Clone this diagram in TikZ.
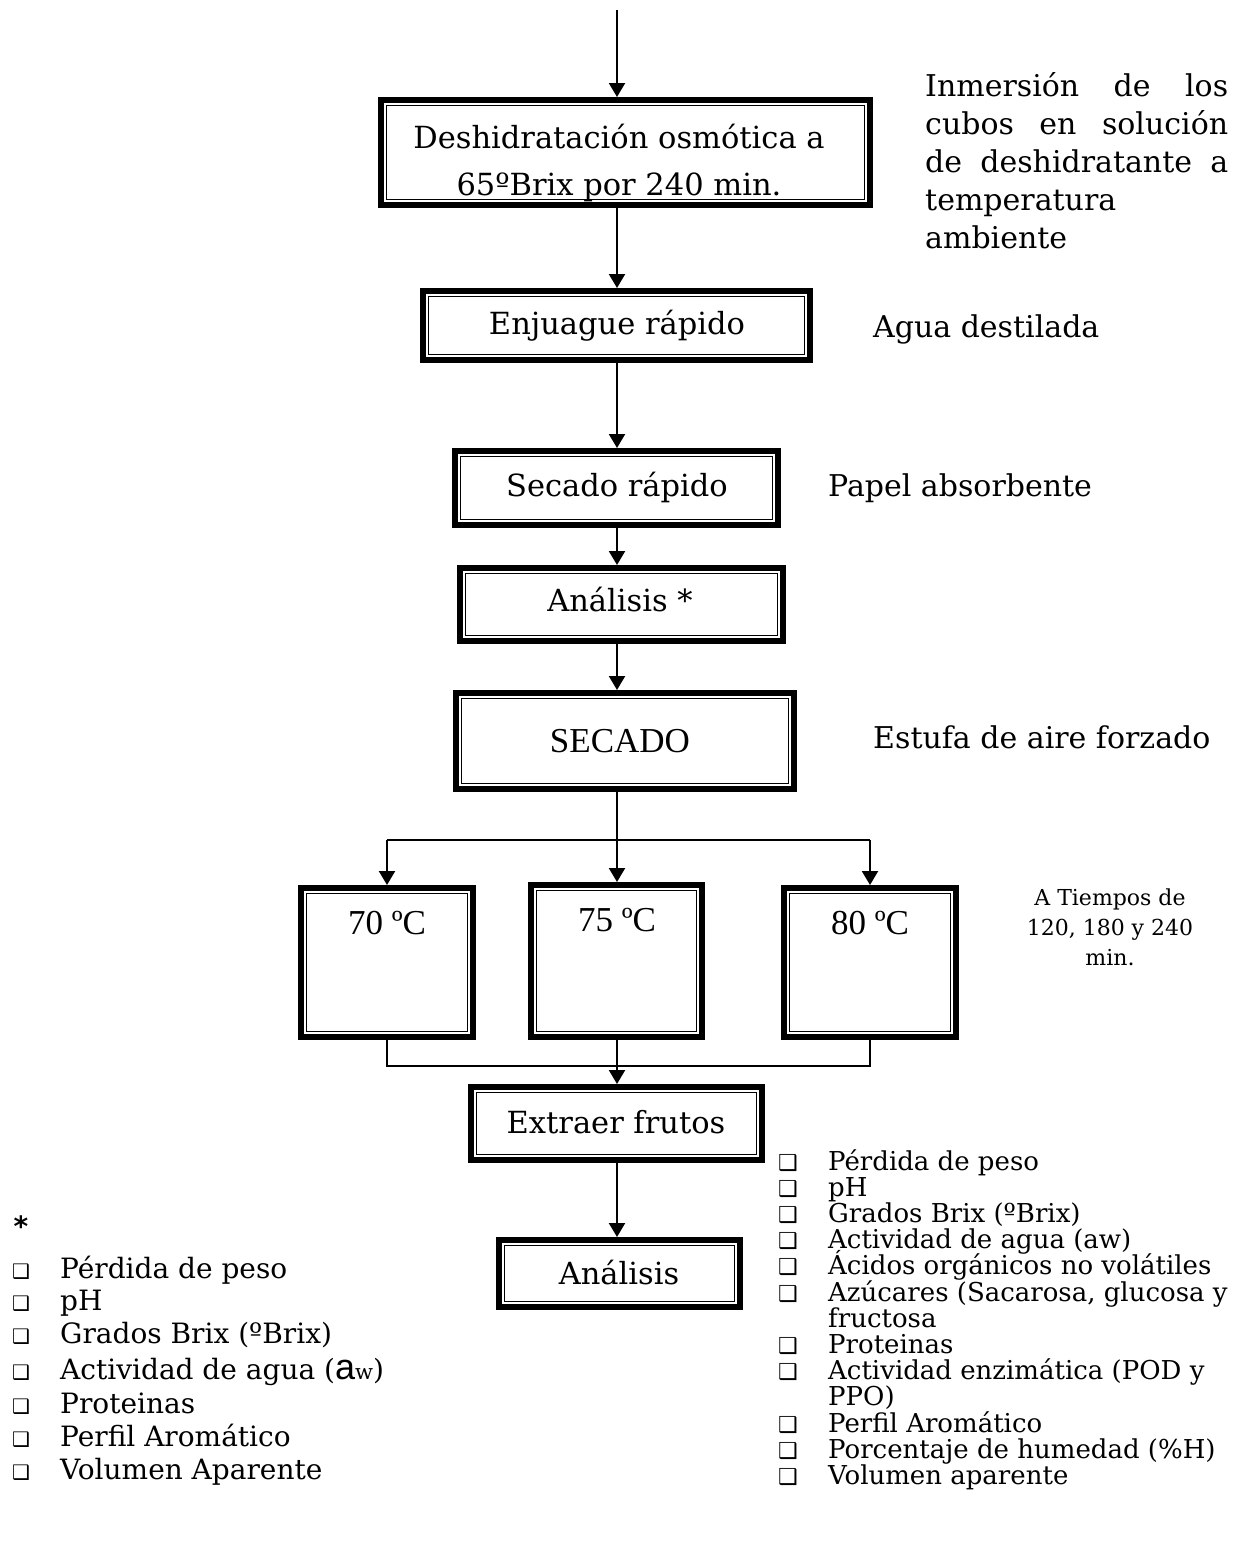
\documentclass[tikz,border=0pt]{standalone}
\usepackage{fontspec}
\setmainfont{DejaVu Serif}
\newfontfamily\timesf{Liberation Serif}
\newfontfamily\dsans{DejaVu Sans}
\newfontfamily\arialf{Liberation Sans}
\usetikzlibrary{arrows.meta}
\newcommand{\bfnt}{\fontsize{30.5}{46.5}\selectfont}
\newcommand{\sfnt}{\fontsize{30}{38}\selectfont}
\newcommand{\rfnt}{\fontsize{26}{26.2}\selectfont}
\newcommand{\lfnt}{\fontsize{28}{33.5}\selectfont}
\newcommand{\tfnt}{\timesf\fontsize{35}{40}\selectfont}
\newcommand{\afnt}{\fontsize{22}{30}\selectfont}
\newcommand{\tbx}[5]{%
  \pgfmathsetmacro\bxw{#4-#2-6}\pgfmathsetmacro\bxh{#5-#3-6}%
  \pgfmathsetmacro\bxx{(#2+#4)/2}\pgfmathsetmacro\bxy{(#3+#5)/2}%
  \node[tbox, minimum width=\bxw pt, minimum height=\bxh pt] (#1) at (\bxx,\bxy) {};
  \draw[thinb] ([shift={(8.5pt,-8.5pt)}]#1.north west) rectangle ([shift={(-8.5pt,8.5pt)}]#1.south east);
}
\begin{document}
\begin{tikzpicture}[x=1pt,y=-1pt,
  tbox/.style={draw, line width=6pt, inner sep=0pt, outer sep=3pt, fill=white},
  thinb/.style={line width=1.5pt},
  arr/.style={line width=2.2pt, -{Triangle[length=14pt,width=16pt]}},
  ln/.style={line width=2.2pt},
  mln/.style={line width=1.3pt},
  btxt/.style={inner sep=0pt, anchor=base, font=\bfnt},
  ttxt/.style={inner sep=0pt, anchor=base, font=\tfnt},
  side/.style={inner sep=0pt, anchor=base west, font=\sfnt},
  ritem/.style={inner sep=0pt, anchor=base west, font=\rfnt},
  litem/.style={inner sep=0pt, anchor=base west, font=\lfnt},
  rbul/.style={inner sep=0pt, anchor=base, font=\dsans\fontsize{22}{22}\selectfont},
  lbul/.style={inner sep=0pt, anchor=base, font=\dsans\fontsize{20}{20}\selectfont}]
\fill[white] (0,0) rectangle (1232,1550);
\useasboundingbox (0,0) rectangle (1232,1550);

% boxes
\tbx{b1}{378}{97}{873}{208}
\tbx{b2}{420}{288}{813}{363}
\tbx{b3}{452}{448}{781}{528}
\tbx{b4}{457}{565}{786}{644}
\tbx{b5}{453}{690}{797}{792}
\tbx{t70}{298}{885}{476}{1040}
\tbx{t75}{528}{882}{705}{1040}
\tbx{t80}{781}{885}{959}{1040}
\tbx{ex}{468}{1084}{765}{1163}
\tbx{an}{496}{1237}{743}{1310}

% box texts
\node[inner sep=0pt, align=center, font=\bfnt] (b1t) at (619,163) {Deshidratación osmótica a\\65ºBrix por 240 min.};
\node[btxt] (b2t) at (617,334) {Enjuague rápido};
\node[btxt] (b3t) at (617,496) {Secado rápido};
\node[btxt] (b4t) at (620,611) {Análisis *};
\node[ttxt] (b5t) at (620,752) {SECADO};
\node[ttxt] (t70t) at (387,934) {70 ºC};
\node[ttxt] (t75t) at (617,931) {75 ºC};
\node[ttxt] (t80t) at (870,934) {80 ºC};
\node[btxt] (ext) at (616,1133) {Extraer frutos};
\node[btxt] (ant) at (619,1284) {Análisis};

% connectors
\coordinate (ax) at (617,0);
\coordinate (top) at (617,10);
\coordinate (br) at (617,840);
\coordinate (mg) at (617,1066);
\draw[arr] (top) -- (b1.north -| ax);
\draw[arr] (b1.south -| ax) -- (b2.north -| ax);
\draw[arr] (b2.south -| ax) -- (b3.north -| ax);
\draw[arr] (b3.south -| ax) -- (b4.north -| ax);
\draw[arr] (b4.south -| ax) -- (b5.north -| ax);
\draw[ln] (b5.south -| ax) -- (br);
\draw[ln] (br -| t70.north) -- (br -| t80.north);
\draw[arr] (br -| t70.north) -- (t70.north);
\draw[arr] (br) -- (t75.north -| ax);
\draw[arr] (br -| t80.north) -- (t80.north);
\draw[mln] (t70.south) -- (t70.south |- mg) -- (t80.south |- mg) -- (t80.south);
\draw[arr] (t75.south -| ax) -- (ex.north -| ax);
\draw[arr] (ex.south -| ax) -- (an.north -| ax);

% side notes
\node[inner sep=0pt, anchor=north west, align=left, font=\sfnt] (s1) at (925,72)
 {\makebox[303pt][s]{Inmersión de los}\\
  \makebox[303pt][s]{cubos en solución}\\
  \makebox[303pt][s]{de deshidratante a}\\
  temperatura\\
  ambiente};
\node[side] (s2) at (873,337) {Agua destilada};
\node[side] (s3) at (828,496) {Papel absorbente};
\node[side] (s4) at (873,748) {Estufa de aire forzado};
\node[inner sep=0pt, anchor=north, align=center, font=\afnt] (s5) at (1110,889)
 {A Tiempos de\\120, 180 y 240\\min.};

% right list
\node[rbul] (rq1) at (788,1170) {❑}; \node[ritem] (r1) at (828,1170) {Pérdida de peso};
\node[rbul] (rq2) at (788,1196.2) {❑}; \node[ritem] (r2) at (828,1196.2) {pH};
\node[rbul] (rq3) at (788,1222.4) {❑}; \node[ritem] (r3) at (828,1222.4) {Grados Brix (ºBrix)};
\node[rbul] (rq4) at (788,1248.6) {❑}; \node[ritem] (r4) at (828,1248.6) {Actividad de agua (aw)};
\node[rbul] (rq5) at (788,1274.8) {❑}; \node[ritem] (r5) at (828,1274.8) {Ácidos orgánicos no volátiles};
\node[rbul] (rq6) at (788,1301) {❑}; \node[ritem] (r6) at (828,1301) {Azúcares (Sacarosa, glucosa y};
\node[ritem] (r7) at (828,1327.2) {fructosa};
\node[rbul] (rq8) at (788,1353.4) {❑}; \node[ritem] (r8) at (828,1353.4) {Proteinas};
\node[rbul] (rq9) at (788,1379.6) {❑}; \node[ritem] (r9) at (828,1379.6) {Actividad enzimática (POD y};
\node[ritem] (r10) at (828,1405.8) {PPO)};
\node[rbul] (rq11) at (788,1432) {❑}; \node[ritem] (r11) at (828,1432) {Perfil Aromático};
\node[rbul] (rq12) at (788,1458.2) {❑}; \node[ritem] (r12) at (828,1458.2) {Porcentaje de humedad (\%H)};
\node[rbul] (rq13) at (788,1484.4) {❑}; \node[ritem] (r13) at (828,1484.4) {Volumen aparente};

% left list
\node[inner sep=0pt, font=\dsans\bfseries\fontsize{28}{28}\selectfont] (star) at (21,1226) {*};
\node[lbul] (lq1) at (21,1278) {❑}; \node[litem] (l1) at (60,1278) {Pérdida de peso};
\node[lbul] (lq2) at (21,1310) {❑}; \node[litem] (l2) at (60,1310) {pH};
\node[lbul] (lq3) at (21,1343) {❑}; \node[litem] (l3) at (60,1343) {Grados Brix (ºBrix)};
\node[lbul] (lq4) at (21,1379) {❑}; \node[litem] (l4) at (60,1379) {Actividad de agua ({\arialf\fontsize{36}{36}\selectfont a}{\fontsize{21}{21}\selectfont w})};
\node[lbul] (lq5) at (21,1413) {❑}; \node[litem] (l5) at (60,1413) {Proteinas};
\node[lbul] (lq6) at (21,1446) {❑}; \node[litem] (l6) at (60,1446) {Perfil Aromático};
\node[lbul] (lq7) at (21,1479) {❑}; \node[litem] (l7) at (60,1479) {Volumen Aparente};
\end{tikzpicture}
\end{document}
